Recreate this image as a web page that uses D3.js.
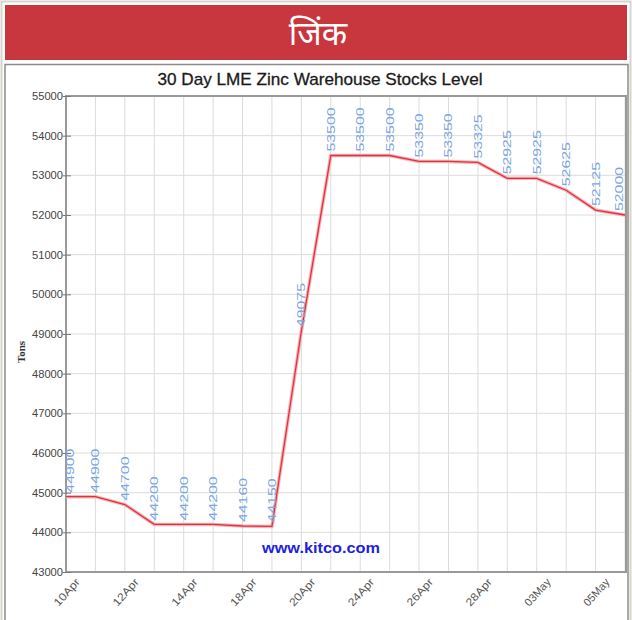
<!DOCTYPE html>
<html>
<head>
<meta charset="utf-8">
<script src="https://cdn.jsdelivr.net/npm/d3@7/dist/d3.min.js"></script>
<style>
  html, body { margin: 0; padding: 0; background: #fff; }
  svg { display: block; }
</style>
</head>
<body>
<svg id="chart" width="632" height="620"></svg>
<script>
const dates = ["10Apr","11Apr","12Apr","13Apr","14Apr","17Apr","18Apr","19Apr","20Apr","21Apr",
               "24Apr","25Apr","26Apr","27Apr","28Apr","02May","03May","04May","05May","08May"];
const stocks = [44900, 44900, 44700, 44200, 44200, 44200, 44160, 44150, 49075, 53500,
                53500, 53500, 53350, 53350, 53325, 52925, 52925, 52625, 52125, 52000];
const tickLabels = ["10Apr","12Apr","14Apr","18Apr","20Apr","24Apr","26Apr","28Apr","03May","05May"];
const yTicks = [43000,44000,45000,46000,47000,48000,49000,50000,51000,52000,53000,54000,55000];
const headerText = "जिंक";
const titleText = "30 Day LME Zinc Warehouse Stocks Level";
const yTitle = "Tons";
const watermark = "www.kitco.com";

const svg = d3.select("#chart");

// outer frame
svg.append("rect").attr("x", 1.5).attr("y", 1.5).attr("width", 629).attr("height", 640)
  .attr("fill", "none").attr("stroke", "#d6d3c8").attr("stroke-width", 2);

// header
svg.append("rect").attr("x", 5).attr("y", 5).attr("width", 622).attr("height", 55)
  .attr("fill", "#c8363e");
svg.append("text").attr("x", 318).attr("y", 45).attr("text-anchor", "middle")
  .attr("fill", "#fff").attr("font-size", 33)
  .attr("font-family", "'Noto Sans Devanagari','Lohit Devanagari','FreeSans','Noto Sans',sans-serif")
  .text(headerText);

// chart panel border
svg.append("rect").attr("x", 5).attr("y", 64.5).attr("width", 623).attr("height", 570)
  .attr("fill", "#fff").attr("stroke", "#8c8c8c").attr("stroke-width", 1.5);

const L = 66, R = 625, T = 96, B = 572;
const x = d3.scalePoint().domain(dates).range([L, R]);
const y = d3.scaleLinear().domain([43000, 55000]).range([B, T]);

// title
svg.append("text").attr("x", 320).attr("y", 85).attr("text-anchor", "middle")
  .attr("fill", "#1a1a1a").attr("font-size", 17).attr("font-weight", 500)
  .attr("font-family", "'Liberation Sans', Arial, sans-serif")
  .attr("textLength", 325).attr("lengthAdjust", "spacingAndGlyphs")
  .attr("stroke", "#1a1a1a").attr("stroke-width", 0.3)
  .text(titleText);

// gridlines
const g = svg.append("g");
g.selectAll("line.vg").data(dates).join("line")
  .attr("x1", d => x(d)).attr("x2", d => x(d)).attr("y1", T).attr("y2", B)
  .attr("stroke", "#dcdcdc").attr("stroke-width", 1);
g.selectAll("line.hg").data(yTicks).join("line")
  .attr("x1", L).attr("x2", R).attr("y1", d => y(d)).attr("y2", d => y(d))
  .attr("stroke", "#dcdcdc").attr("stroke-width", 1);

// frame
svg.append("rect").attr("x", L).attr("y", T).attr("width", R - L + 1).attr("height", B - T)
  .attr("fill", "none").attr("stroke", "#9a9a9a").attr("stroke-width", 2);

// y axis
const yAxis = d3.axisLeft(y).tickValues(yTicks).tickSize(4).tickFormat(d3.format("d"));
const ya = svg.append("g").attr("transform", `translate(${L + 3},0)`).call(yAxis);
ya.select(".domain").remove();
ya.selectAll(".tick line").attr("stroke", "#777").attr("x2", -6).attr("x1", 2);
ya.selectAll(".tick text").attr("x", -6).attr("fill", "#444").attr("font-size", 11)
  .attr("font-family", "'Liberation Sans', Arial, sans-serif")
  .attr("textLength", 31).attr("lengthAdjust", "spacingAndGlyphs");

// x axis
const xAxis = d3.axisBottom(x).tickValues(tickLabels.map(t => dates.find(d => d === t))).tickSize(0);
const xa = svg.append("g").attr("transform", `translate(0,${B})`).call(xAxis);
xa.select(".domain").remove();
xa.selectAll(".tick text")
  .attr("text-anchor", "end").attr("fill", "#555").attr("font-size", 11)
  .attr("font-family", "'Liberation Sans', Arial, sans-serif")
  .attr("textLength", 33).attr("lengthAdjust", "spacingAndGlyphs")
  .attr("transform", "translate(8,5) rotate(-48)").attr("dy", "0.75em").attr("y", 0);

// y title
svg.append("text").attr("transform", "translate(25,352) rotate(-90)").attr("text-anchor", "middle")
  .attr("font-size", 11).attr("font-weight", "bold").attr("fill", "#333")
  .attr("font-family", "'Liberation Serif', 'Times New Roman', serif").text(yTitle);

// watermark
svg.append("text").attr("x", 262).attr("y", 553).attr("fill", "#1f1fe0")
  .attr("font-size", 15).attr("font-weight", "bold")
  .attr("font-family", "'Liberation Sans', Arial, sans-serif")
  .attr("textLength", 118).attr("lengthAdjust", "spacingAndGlyphs").text(watermark);

// line
const line = d3.line().x((d, i) => x(dates[i])).y(d => y(d));
svg.append("path").datum(stocks).attr("d", line).attr("fill", "none")
  .attr("stroke", "#f4b3b7").attr("stroke-width", 3.5);
svg.append("path").datum(stocks).attr("d", line).attr("fill", "none")
  .attr("stroke", "#e0323c").attr("stroke-width", 1.3);

// value labels
svg.append("g").selectAll("text").data(stocks).join("text")
  .attr("transform", (d, i) => `translate(${Math.max(L + 8, Math.min(x(dates[i]) + 4, R - 2))},${y(d) - 4}) rotate(-90)`)
  .attr("fill", "#7aa6e2").attr("font-size", 11)
  .attr("font-family", "'Liberation Sans', Arial, sans-serif")
  .attr("textLength", 44).attr("lengthAdjust", "spacingAndGlyphs")
  .text(d => d);
</script>
</body>
</html>
